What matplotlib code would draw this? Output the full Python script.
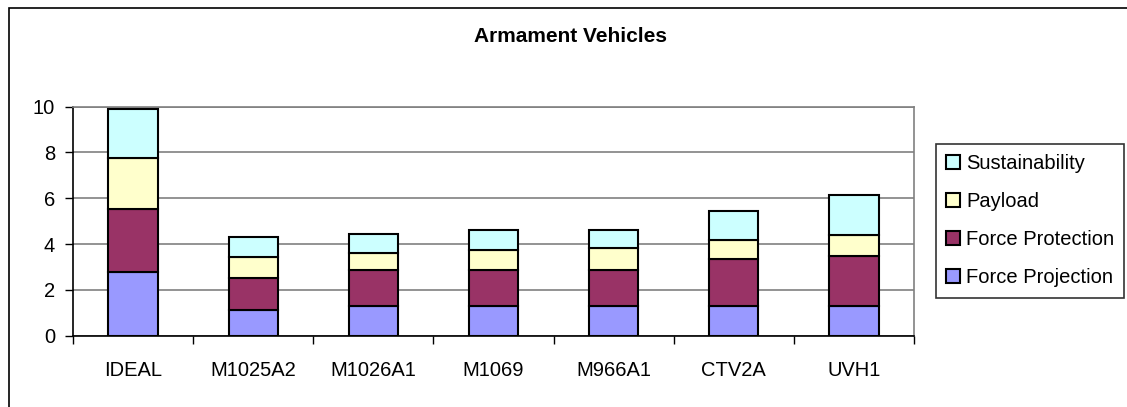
import matplotlib
matplotlib.use("Agg")
import matplotlib.pyplot as plt
from matplotlib.patches import Rectangle, Patch
import numpy as np

plt.rcParams["font.family"] = ["Liberation Sans", "DejaVu Sans"]

categories = ["IDEAL", "M1025A2", "M1026A1", "M1069", "M966A1", "CTV2A", "UVH1"]
force_projection = [2.76, 1.12, 1.30, 1.30, 1.30, 1.30, 1.30]
force_protection = [2.78, 1.40, 1.56, 1.56, 1.56, 2.06, 2.17]
payload = [2.20, 0.93, 0.77, 0.87, 0.95, 0.80, 0.94]
sustainability = [2.15, 0.88, 0.79, 0.87, 0.79, 1.30, 1.75]

series = [
    ("Force Projection", force_projection, "#9999FF"),
    ("Force Protection", force_protection, "#993366"),
    ("Payload", payload, "#FFFFCC"),
    ("Sustainability", sustainability, "#CCFFFF"),
]

W, H = 1127, 407
FS = 14.5
fig = plt.figure(figsize=(W / 100, H / 100), dpi=100)
ax = fig.add_axes([73 / W, 1 - 335.7 / H, (914 - 73) / W, (335.7 - 106.7) / H])

x = np.arange(len(categories))
bottom = np.zeros(len(categories))
handles = []
for name, vals, color in series:
    ax.bar(x, vals, width=0.41, bottom=bottom, color=color,
           edgecolor="black", linewidth=1.5, zorder=3)
    bottom += np.array(vals)
    handles.append(Patch(facecolor=color, edgecolor="black", linewidth=1.5, label=name))

ax.set_xlim(-0.5, len(categories) - 0.5)
ax.set_ylim(0, 10)
ax.set_yticks(np.arange(0, 11, 2))
ax.yaxis.grid(True, color="#808080", linewidth=1.2, zorder=0)

# category labels centred, tick marks between categories
ax.set_xticks(x)
ax.set_xticklabels(categories, fontsize=FS)
ax.tick_params(axis="x", length=0, pad=18)
ax.set_xticks(np.arange(-0.5, len(categories)), minor=True)
ax.tick_params(axis="x", which="minor", length=6, width=1, color="black", direction="out")
ax.tick_params(axis="y", length=6, width=1, labelsize=FS, pad=7)

for side in ("top", "right"):
    ax.spines[side].set_color("#808080")
    ax.spines[side].set_linewidth(1.2)
for side in ("left", "bottom"):
    ax.spines[side].set_color("black")
    ax.spines[side].set_linewidth(1.2)

fig.text(571 / W, 1 - 37 / H, "Armament Vehicles", ha="center", va="center",
         fontsize=15, fontweight="bold")

leg = fig.legend(handles=handles[::-1], loc="upper left",
                 bbox_to_anchor=(936 / W, 1 - 144 / H), fontsize=FS,
                 frameon=True, fancybox=False, edgecolor="black",
                 handlelength=0.7, handleheight=0.7, handletextpad=0.3,
                 labelspacing=0.95, borderpad=0.5, borderaxespad=0)
leg.get_frame().set_linewidth(1.2)

# outer chart border (cut off at right and bottom like the source)
fig.patches.append(Rectangle((9 / W, -0.1), 1.2, 1 - 8 / H + 0.1,
                             transform=fig.transFigure, fill=False,
                             edgecolor="black", linewidth=1.2))

fig.savefig("out.png", dpi=100)
